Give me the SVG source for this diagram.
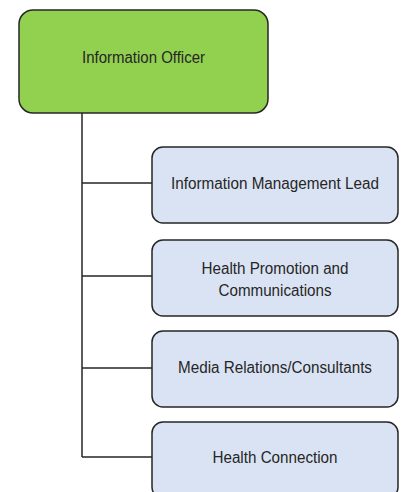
<svg xmlns="http://www.w3.org/2000/svg" width="402" height="492" viewBox="0 0 402 492">
<style>
.box{stroke:#262626;stroke-width:1.5}
.top{fill:#92D050}
.child{fill:#DAE3F3}
.conn{fill:none;stroke:#262626;stroke-width:1.5}
text{font-family:"Liberation Sans",Arial,sans-serif;font-size:16px;fill:#262626;text-anchor:middle}
</style>
<rect width="402" height="492" fill="#fff"/>
<g id="connectors">
<path class="conn" d="M82 113 V457 M82 183 H152 M82 276 H152 M82 368 H152 M82 457 H152"/>
</g>
<g id="information-officer">
<rect class="box top" x="19" y="10" width="249" height="103" rx="14"/>
<text x="143.5" y="62.5" textLength="123" lengthAdjust="spacingAndGlyphs">Information Officer</text>
</g>
<g id="information-management-lead">
<rect class="box child" x="152" y="147" width="246" height="76" rx="11"/>
<text x="275" y="189" textLength="208" lengthAdjust="spacingAndGlyphs">Information Management Lead</text>
</g>
<g id="health-promotion">
<rect class="box child" x="152" y="240" width="246" height="76" rx="11"/>
<text x="275" y="273.5" textLength="147" lengthAdjust="spacingAndGlyphs">Health Promotion and</text>
<text x="275" y="295.5" textLength="113" lengthAdjust="spacingAndGlyphs">Communications</text>
</g>
<g id="media-relations">
<rect class="box child" x="152" y="331" width="246" height="76" rx="11"/>
<text x="275" y="373" textLength="194" lengthAdjust="spacingAndGlyphs">Media Relations/Consultants</text>
</g>
<g id="health-connection">
<rect class="box child" x="152" y="422" width="246" height="76" rx="11"/>
<text x="275" y="462.5" textLength="125" lengthAdjust="spacingAndGlyphs">Health Connection</text>
</g>
</svg>
